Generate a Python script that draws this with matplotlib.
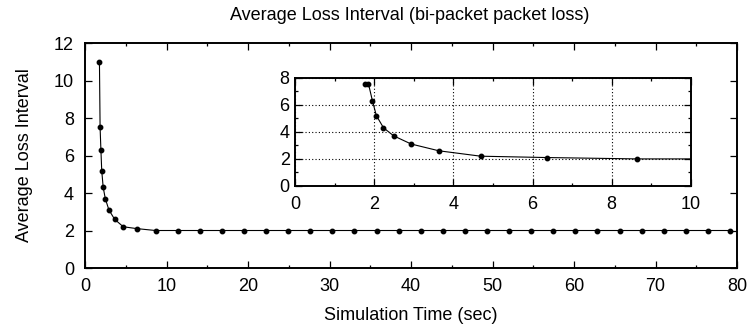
import matplotlib
matplotlib.use("Agg")
import matplotlib.pyplot as plt
from matplotlib.ticker import MultipleLocator

plt.rcParams['font.family'] = ['Liberation Sans', 'DejaVu Sans']
plt.rcParams['font.size'] = 13

# average loss interval over the whole run
sim_time = [1.77, 1.85, 1.95, 2.05, 2.23, 2.49, 2.93, 3.63, 4.69, 6.37, 8.65,
            11.36, 14.07, 16.79, 19.50, 22.21, 24.92, 27.63, 30.34, 33.06,
            35.77, 38.48, 41.19, 43.90, 46.61, 49.33, 52.04, 54.75, 57.46,
            60.17, 62.88, 65.60, 68.31, 71.02, 73.73, 76.44, 79.15]
avg_loss = [11.0, 7.5, 6.3, 5.2, 4.3, 3.7, 3.1, 2.6, 2.2, 2.1, 2.0,
            2.0, 2.0, 2.0, 2.0, 2.0, 2.0, 2.0, 2.0, 2.0,
            2.0, 2.0, 2.0, 2.0, 2.0, 2.0, 2.0, 2.0, 2.0,
            2.0, 2.0, 2.0, 2.0, 2.0, 2.0, 2.0, 2.0]

# zoomed view of the first 10 seconds
zoom_time = [1.77, 1.85, 1.95, 2.05, 2.23, 2.49, 2.93, 3.63, 4.69, 6.37, 8.65, 11.36]
zoom_loss = [7.55, 7.55, 6.3, 5.2, 4.3, 3.7, 3.1, 2.6, 2.2, 2.1, 2.0, 2.0]

line_kw = dict(color='black', lw=0.8, marker='o', ms=3.2, mfc='black', mec='black')


def style_axes(ax):
    for s in ax.spines.values():
        s.set_linewidth(1.4)
    ax.tick_params(which='both', direction='in', top=True, right=True, width=0.9)
    ax.tick_params(which='major', length=5)
    ax.tick_params(which='minor', length=2.4)


fig = plt.figure(figsize=(7.51, 3.29), dpi=100)

ax = fig.add_axes([0.1132, 0.1854, 0.8682, 0.6839])
ax.plot(sim_time, avg_loss, **line_kw)
ax.set_xlim(0, 80)
ax.set_ylim(0, 12)
ax.xaxis.set_major_locator(MultipleLocator(10))
ax.xaxis.set_minor_locator(MultipleLocator(5))
ax.yaxis.set_major_locator(MultipleLocator(2))
style_axes(ax)
ax.tick_params(axis='x', pad=7)
ax.tick_params(axis='y', pad=8)

ax.set_xlabel('Simulation Time (sec)')
ax.xaxis.set_label_coords(0.5, -0.209)
ax.xaxis.label.set_va('center')
ax.set_ylabel('Average Loss Interval')
ax.yaxis.set_label_coords(-0.093, 0.5)
ax.yaxis.label.set_va('center')

fig.text(0.546, 1 - 15 / 329, 'Average Loss Interval (bi-packet packet loss)',
         ha='center', va='center')

# inset
ins = fig.add_axes([0.3932, 0.4347, 0.5265, 0.3292])
ins.plot(zoom_time, zoom_loss, **line_kw)
ins.set_xlim(0, 10)
ins.set_ylim(0, 8)
ins.xaxis.set_major_locator(MultipleLocator(2))
ins.xaxis.set_minor_locator(MultipleLocator(1))
ins.yaxis.set_major_locator(MultipleLocator(2))
ins.yaxis.set_minor_locator(MultipleLocator(1))
style_axes(ins)
ins.tick_params(axis='x', pad=7)
ins.tick_params(axis='y', pad=4)
ins.grid(True, which='major', color='black', lw=0.8, ls=(0, (1, 2)))

fig.savefig('out.png', dpi=100)
